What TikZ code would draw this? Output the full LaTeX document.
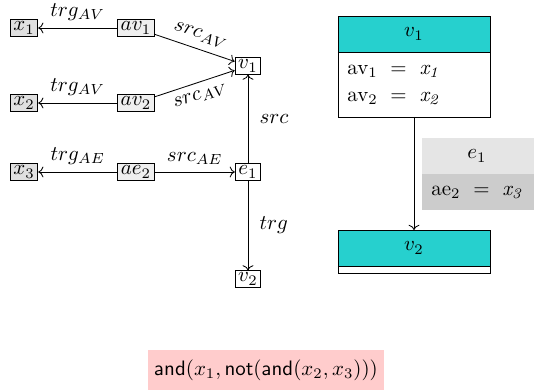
\documentclass[tikz,border=0pt]{standalone}
\usetikzlibrary{arrows.meta}
\definecolor{tealhead}{RGB}{38,208,206}
\definecolor{lgray}{RGB}{229,229,229}
\definecolor{dgray}{RGB}{204,204,204}
\definecolor{pinkbg}{RGB}{255,204,204}
\definecolor{xfill}{RGB}{224,224,224}
\definecolor{afill}{RGB}{239,239,239}
\begin{document}
\begin{tikzpicture}[x=0.478pt,y=-0.478pt,
  xn/.style={draw, fill=xfill, inner xsep=1.5pt, inner ysep=1pt},
  an/.style={draw, fill=afill, inner xsep=1.5pt, inner ysep=1pt},
  gn/.style={draw, fill=white, inner xsep=1.5pt, inner ysep=1pt},
  edge/.style={->, thin}]
\useasboundingbox (0,0) rectangle (534,392);
% left graph
\node[xn] (x1) at (24,28) {$x_1$};
\node[an] (av1) at (136,28) {$av_1$};
\node[gn] (v1) at (248,66) {$v_1$};
\node[xn] (x2) at (24,103) {$x_2$};
\node[an] (av2) at (136,103) {$av_2$};
\node[xn] (x3) at (24,172) {$x_3$};
\node[an] (ae2) at (136,172) {$ae_2$};
\node[gn] (e1) at (248,172) {$e_1$};
\node[gn] (v2) at (248,279) {$v_2$};
\draw[edge] (av1) -- node[above=0pt] {$trg_{AV}$} (x1);
\draw[edge] (av1) -- node[above=0pt, sloped, pos=0.52] {$src_{AV}$} (v1);
\draw[edge] (av2) -- node[above=0pt] {$trg_{AV}$} (x2);
\draw[edge] (av2) -- node[below=0pt, sloped, pos=0.52] {$src_{AV}$} (v1);
\draw[edge] (ae2) -- node[above=0pt] {$trg_{AE}$} (x3);
\draw[edge] (ae2) -- node[above=0pt] {$src_{AE}$} (e1);
\draw[edge] (e1) -- node[right=2pt] {$src$} (v1);
\draw[edge] (e1) -- node[right=2pt] {$trg$} (v2);
% right side: v1 box
\fill[tealhead] (338,16) rectangle (490,52);
\draw (338,16) rectangle (490,117);
\draw (338,52) -- (490,52);
\node (rv1) at (414,34) {$v_1$};
\node[anchor=west] (rav1) at (340,71) {av$_1$ $\;=\;$ $\mathit{x}_{\mathit{1}}$};
\node[anchor=west] (rav2) at (340,98) {av$_2$ $\;=\;$ $\mathit{x}_{\mathit{2}}$};
\coordinate (rv1b) at (414,117);
% e1 box
\fill[lgray] (422,138) rectangle (534,174);
\fill[dgray] (422,174) rectangle (534,210);
\node (re1) at (477,156) {$e_1$};
\node[anchor=west] (rae2) at (424,192) {ae$_2$ $\;=\;$ $\mathit{x}_{\mathit{3}}$};
% v2 box
\fill[tealhead] (338,230) rectangle (490,266);
\draw (338,230) rectangle (490,273);
\draw (338,266) -- (490,266);
\node (rv2) at (414,248) {$v_2$};
\coordinate (rv2t) at (414,230);
\draw[edge] (rv1b) -- (rv2t);
% formula
\node[fill=pinkbg, inner xsep=3pt, minimum height=19pt] (form) at (266,370)
  {$\mathsf{and}(x_1, \mathsf{not}(\mathsf{and}(x_2, x_3)))$};
\end{tikzpicture}
\end{document}
